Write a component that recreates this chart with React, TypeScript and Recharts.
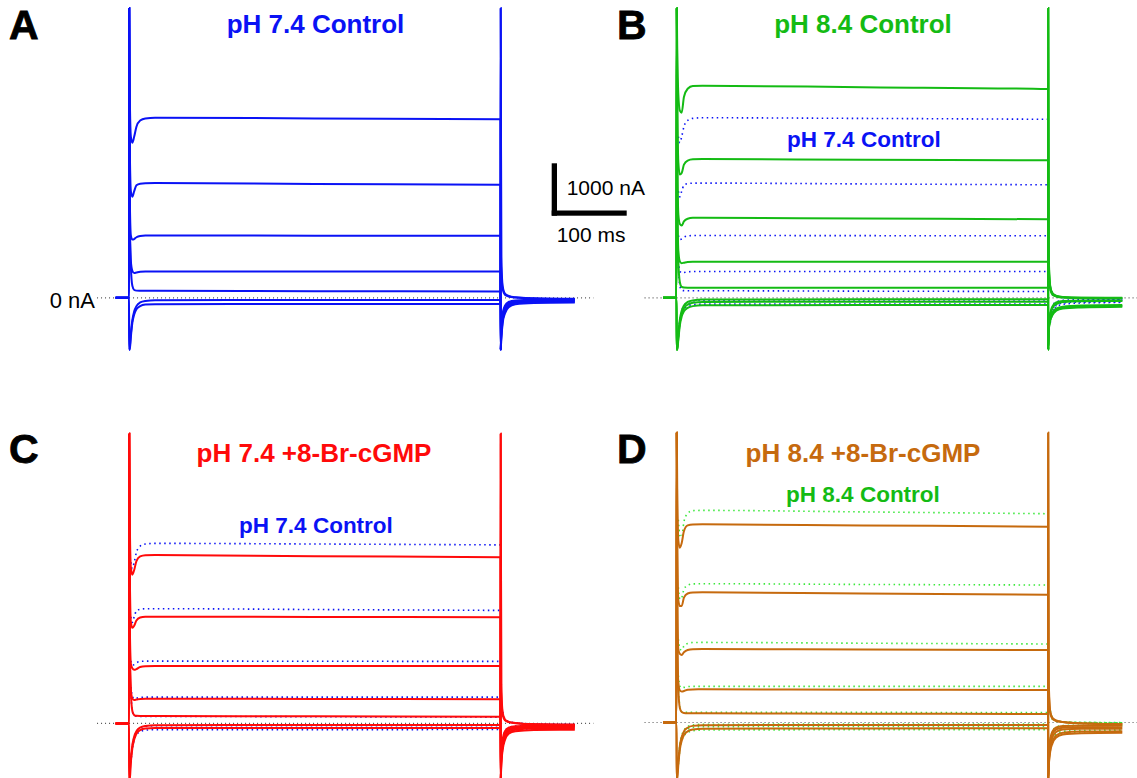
import React from 'react';
import { LineChart, Line, XAxis, YAxis } from 'recharts';

// sample times (ms) shared by every trace; pulse runs 0..500 ms
const T = [-18, 0, 0.3, 1, 2.5, 4.5, 7, 10, 15, 22, 35, 250, 500, 500.3, 501, 503, 506, 511, 520, 545, 600];

// zero-current reference (dotted)
const baseT = [-43, 625];
const baseV = [0, 0];

// pH 7.4 control, currents in nA
const ctl74: number[][] = [
  [0, 0, 5570, 4000, 3100, 2981, 3100, 3290, 3410, 3450, 3462, 3450, 3433, -1000, -800, -480, -300, -180, -125, -100, -90],
  [0, 0, 5570, 3000, 2050, 1942, 2050, 2165, 2195, 2204, 2206, 2190, 2173, -1000, -760, -430, -260, -150, -100, -80, -75],
  [0, 0, 5570, 2000, 1200, 1120, 1130, 1165, 1190, 1197, 1198, 1195, 1192, -1000, -700, -380, -220, -120, -80, -62, -58],
  [0, 0, 5570, 1500, 700, 520, 475, 485, 500, 505, 506, 506, 506, -1000, -650, -330, -180, -100, -65, -50, -45],
  [0, 0, 5570, 1500, 600, 230, 150, 138, 136, 135, 135, 128, 121, -1000, -600, -300, -150, -80, -50, -38, -35],
  [0, 0, -1000, -950, -700, -430, -260, -160, -90, -60, -45, -42, -42, 5570, 600, 160, 60, 25, 5, -12, -20],
  [0, 0, -1000, -1000, -750, -480, -320, -220, -160, -130, -122, -120, -118, 5570, 800, 220, 80, 35, 10, -10, -25],
];

// pH 8.4 control
const ctl84: number[][] = [
  [0, 0, 5570, 4800, 3900, 3600, 3560, 3860, 4020, 4075, 4079, 4050, 4015, -1000, -620, -440, -330, -250, -205, -185, -170],
  [0, 0, 5570, 4000, 2600, 2370, 2400, 2560, 2640, 2665, 2669, 2655, 2644, -1000, -600, -420, -310, -235, -190, -170, -160],
  [0, 0, 5570, 3000, 1600, 1420, 1390, 1470, 1520, 1538, 1540, 1525, 1510, -1000, -580, -400, -290, -210, -170, -150, -140],
  [0, 0, 5570, 2200, 900, 700, 665, 675, 690, 694, 694, 694, 694, -1000, -650, -350, -200, -120, -80, -65, -60],
  [0, 0, 5570, 1800, 700, 300, 210, 198, 195, 194, 194, 194, 192, -1000, -620, -310, -165, -90, -60, -52, -50],
  [0, 0, -1000, -950, -700, -420, -250, -150, -80, -50, -35, -30, -29, 5570, 600, 170, 60, 25, 5, -5, -8],
  [0, 0, -1000, -1000, -750, -470, -300, -200, -130, -95, -80, -76, -75, 5570, 700, 200, 80, 35, 12, 0, -5],
  [0, 0, -1000, -1000, -800, -530, -360, -260, -195, -160, -145, -140, -140, 5570, 800, 230, 90, 40, 15, 3, 0],
];

// pH 7.4 + 8-Br-cGMP
const brc74: number[][] = [
  [0, 0, 5570, 4000, 3000, 2860, 2950, 3120, 3210, 3235, 3238, 3215, 3194, -1100, -800, -500, -320, -200, -150, -125, -120],
  [0, 0, 5570, 3000, 1950, 1840, 1880, 1980, 2035, 2050, 2052, 2046, 2040, -1100, -760, -450, -280, -170, -120, -100, -100],
  [0, 0, 5570, 2000, 1150, 1060, 1030, 1045, 1085, 1100, 1104, 1104, 1104, -1100, -700, -400, -240, -140, -95, -82, -80],
  [0, 0, 5570, 1500, 650, 480, 452, 458, 470, 475, 475, 470, 463, -1100, -650, -350, -200, -110, -75, -62, -60],
  [0, 0, 5570, 1500, 600, 240, 160, 145, 142, 142, 142, 136, 129, -1100, -600, -300, -150, -80, -55, -45, -40],
  [0, 0, -1100, -950, -700, -420, -250, -150, -80, -50, -35, -31, -31, 5570, 600, 160, 60, 25, 5, -15, -20],
  [0, 0, -1100, -1100, -750, -480, -310, -200, -130, -100, -90, -88, -88, 5570, 750, 200, 75, 30, 8, -15, -30],
];

// pH 8.4 + 8-Br-cGMP
const brc84: number[][] = [
  [0, 0, 5570, 4500, 3500, 3360, 3450, 3680, 3790, 3810, 3812, 3790, 3765, -1100, -850, -560, -400, -290, -230, -205, -196],
  [0, 0, 5570, 3500, 2350, 2240, 2240, 2400, 2480, 2500, 2504, 2480, 2458, -1100, -820, -520, -360, -250, -195, -175, -170],
  [0, 0, 5570, 2500, 1400, 1320, 1300, 1350, 1395, 1410, 1413, 1404, 1394, -1100, -750, -440, -280, -180, -135, -122, -120],
  [0, 0, 5570, 1800, 750, 620, 595, 605, 630, 637, 638, 632, 625, -1100, -700, -380, -220, -130, -100, -93, -92],
  [0, 0, 5570, 1600, 650, 280, 200, 182, 178, 177, 177, 170, 163, -1100, -650, -330, -170, -95, -68, -62, -60],
  [0, 0, -1100, -1000, -750, -450, -280, -170, -100, -65, -52, -48, -48, 5570, 650, 180, 70, 30, 8, -20, -35],
  [0, 0, -1100, -1100, -800, -520, -350, -240, -170, -135, -118, -113, -112, 5570, 800, 220, 90, 40, 10, -15, -30],
];

const BLUE = '#0a12f5';
const GREEN = '#14bb14';
const RED = '#ff0a0a';
const ORANGE = '#c66a0e';
const LIGHTGREEN = '#3be83b';
const FONT = '"Liberation Sans", Arial, Helvetica, sans-serif';

const PX_PER_NA = 0.052;

const pts = (vals: number[], from = 0, to = T.length) =>
  T.slice(from, to).map((t, i) => ({ t, v: vals[from + i] }));

type PanelProps = {
  left: number;
  top: number;
  width: number;
  height: number;
  x0: number; // pixel of t = 0
  k: number; // px per ms
  base: number; // pixel of 0 nA
  traces: number[][];
  color: string;
  ctl?: number[][];
  ctlColor?: string;
};

function Panel({ left, top, width, height, x0, k, base, traces, color, ctl, ctlColor }: PanelProps) {
  const xDom: [number, number] = [(left - x0) / k, (left + width - x0) / k];
  const yDom: [number, number] = [(base - top - height) / PX_PER_NA, (base - top) / PX_PER_NA];
  const baseline = baseT.map((t, i) => ({ t, v: baseV[i] }));
  return (
    <div style={{ position: 'absolute', left, top }}>
      <LineChart width={width} height={height} margin={{ top: 0, right: 0, bottom: 0, left: 0 }}>
        <XAxis hide type="number" dataKey="t" domain={xDom} allowDataOverflow />
        <YAxis hide type="number" domain={yDom} allowDataOverflow />
        <Line
          data={baseline}
          dataKey="v"
          stroke="#555"
          strokeWidth={1.2}
          strokeDasharray="1 3"
          dot={false}
          isAnimationActive={false}
        />
        {ctl &&
          ctl.map((vals, i) => (
            <Line
              key={'cp' + i}
              data={pts(vals, 4, 13)}
              dataKey="v"
              type="monotone"
              stroke={ctlColor}
              strokeWidth={1.6}
              strokeDasharray="1.5 3.5"
              dot={false}
              isAnimationActive={false}
            />
          ))}
        {ctl &&
          ctl.map((vals, i) => (
            <Line
              key={'ct' + i}
              data={pts(vals, 15, 21)}
              dataKey="v"
              type="monotone"
              stroke={ctlColor}
              strokeWidth={1.6}
              strokeDasharray="1.5 3.5"
              dot={false}
              isAnimationActive={false}
            />
          ))}
        {traces.map((vals, i) => (
          <Line
            key={'tr' + i}
            data={pts(vals)}
            dataKey="v"
            type="monotone"
            stroke={color}
            strokeWidth={2}
            dot={false}
            isAnimationActive={false}
          />
        ))}
      </LineChart>
    </div>
  );
}

export default function App() {
  return (
    <div
      style={{
        position: 'absolute',
        left: 0,
        top: 0,
        width: 1137,
        height: 778,
        background: '#fff',
        overflow: 'hidden',
      }}
    >
      <Panel left={90} top={0} width={530} height={360} x0={129} k={0.743} base={297.8} traces={ctl74} color={BLUE} />
      <Panel
        left={640}
        top={0}
        width={497}
        height={360}
        x0={676.5}
        k={0.743}
        base={297.8}
        traces={ctl84}
        color={GREEN}
        ctl={ctl74}
        ctlColor={BLUE}
      />
      <Panel
        left={90}
        top={420}
        width={530}
        height={358}
        x0={129}
        k={0.743}
        base={723.4}
        traces={brc74}
        color={RED}
        ctl={ctl74}
        ctlColor={BLUE}
      />
      <Panel
        left={640}
        top={420}
        width={497}
        height={358}
        x0={676.5}
        k={0.743}
        base={722.5}
        traces={brc84}
        color={ORANGE}
        ctl={ctl84}
        ctlColor={LIGHTGREEN}
      />

      <svg
        width={1137}
        height={778}
        style={{ position: 'absolute', left: 0, top: 0, pointerEvents: 'none' }}
        fontFamily={FONT}
      >
        <g fontSize={41} fontWeight={700} fill="#000" stroke="#000" strokeWidth={0.8}>
          <text x={9} y={38.5}>A</text>
          <text x={617} y={38.5}>B</text>
          <text x={9} y={463}>C</text>
          <text x={617} y={463}>D</text>
        </g>
        <g fontWeight={700} textAnchor="middle">
          <text x={315.5} y={33.3} fontSize={26} fill={BLUE}>pH 7.4 Control</text>
          <text x={863} y={33.3} fontSize={26} fill={GREEN}>pH 8.4 Control</text>
          <text x={864} y={147} fontSize={22.5} fill={BLUE}>pH 7.4 Control</text>
          <text x={314} y={461.5} fontSize={26} fill={RED}>pH 7.4 +8-Br-cGMP</text>
          <text x={316} y={533} fontSize={22.5} fill={BLUE}>pH 7.4 Control</text>
          <text x={863} y={461.5} fontSize={26} fill={ORANGE}>pH 8.4 +8-Br-cGMP</text>
          <text x={863} y={501.5} fontSize={22.5} fill={GREEN}>pH 8.4 Control</text>
        </g>
        <text x={95} y={307.5} fontSize={22} textAnchor="end" fill="#000">0 nA</text>
        <rect x={551.7} y={163.3} width={5.3} height={52.4} fill="#000" />
        <rect x={551.7} y={210.5} width={75} height={5.2} fill="#000" />
        <text x={566.7} y={195} fontSize={21} fill="#000">1000 nA</text>
        <text x={556.7} y={241.7} fontSize={21} fill="#000">100 ms</text>
      </svg>
    </div>
  );
}
